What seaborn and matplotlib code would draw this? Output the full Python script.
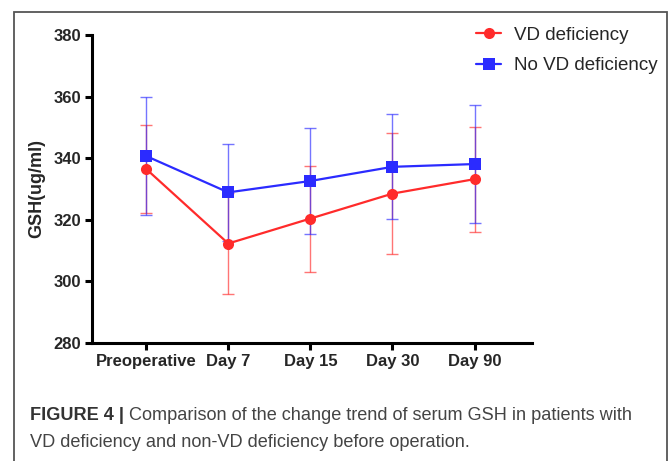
import numpy as np
import pandas as pd
import matplotlib
matplotlib.use("Agg")
import matplotlib.pyplot as plt
from matplotlib.patches import Rectangle
import seaborn as sns

# data (mean +/- SD)
timepoints = ["Preoperative", "Day 7", "Day 15", "Day 30", "Day 90"]
vd_mean = [336.5, 312.3, 320.4, 328.5, 333.2]
vd_sd = [14.2, 16.5, 17.2, 19.6, 17.0]
novd_mean = [340.7, 328.9, 332.6, 337.2, 338.1]
novd_sd = [19.3, 15.8, 17.2, 17.0, 19.1]
groups = ["VD deficiency", "No VD deficiency"]

sns.set_theme(style="ticks")
plt.rcParams['font.family'] = ['Liberation Sans', 'DejaVu Sans']

red = "#ff2b2b"
blue = "#2b2bff"
palette = {groups[0]: red, groups[1]: blue}

df = pd.DataFrame({
    "pos": list(range(len(timepoints))) * 2,
    "GSH": vd_mean + novd_mean,
    "sd": vd_sd + novd_sd,
    "group": [groups[0]] * len(timepoints) + [groups[1]] * len(timepoints),
})

fig = plt.figure(figsize=(6.72, 4.61), dpi=100)
ax = fig.add_axes([92 / 672, 1 - 343 / 461, 440 / 672, 308 / 461])

# error bars first, lines and markers on top
for g in groups:
    sub = df[df["group"] == g]
    ax.errorbar(sub["pos"], sub["GSH"], yerr=sub["sd"], fmt="none",
                ecolor=palette[g], alpha=0.65, elinewidth=1.0,
                capsize=4, capthick=1.0, zorder=2)

sns.lineplot(data=df, x="pos", y="GSH", hue="group", style="group",
             palette=palette, markers={groups[0]: "o", groups[1]: "s"},
             dashes=False, markersize=8, markeredgewidth=0, linewidth=1.6,
             ax=ax, zorder=3)

ax.set_xlim(-0.66, 4.7)
ax.set_ylim(280, 380)
ax.set_yticks(np.arange(280, 381, 20))
ax.set_xticks(range(len(timepoints)))
ax.set_xticklabels(timepoints)
ax.set_xlabel("")
ax.set_ylabel("GSH(ug/ml)", fontsize=13, fontweight="bold", labelpad=6)

for s in ["top", "right"]:
    ax.spines[s].set_visible(False)
for s in ["left", "bottom"]:
    ax.spines[s].set_linewidth(2.2)
    ax.spines[s].set_color("black")
ax.tick_params(axis="both", length=5, width=2.2, color="black",
               labelsize=12, pad=3)
for lab in ax.get_xticklabels() + ax.get_yticklabels():
    lab.set_fontweight("bold")

handles, labels = ax.get_legend_handles_labels()
ax.legend(handles, labels, loc="upper left", bbox_to_anchor=(467 / 672, 1 - 17 / 461),
          bbox_transform=fig.transFigure, frameon=False, fontsize=13.5,
          handlelength=1.3, handletextpad=0.7, labelspacing=0.72, borderpad=0)

# outer frame of the figure panel
fig.patches.append(Rectangle((14 / 672, -0.05), 653 / 672, 1.05 - 12 / 461,
                             transform=fig.transFigure, fill=False,
                             edgecolor="#555555", linewidth=1.3))

# caption: bold label, then normal text right after it
cap_size = 13.1
t1 = fig.text(30 / 672, 1 - 415 / 461, "FIGURE 4 |", fontsize=cap_size,
              fontweight="bold", color="#333333", va="center")
fig.canvas.draw()
bb = t1.get_window_extent(renderer=fig.canvas.get_renderer())
x_next = (bb.x1 + 5) / fig.bbox.width
fig.text(x_next, 1 - 415 / 461,
         "Comparison of the change trend of serum GSH in patients with",
         fontsize=cap_size, color="#444444", va="center")
fig.text(30 / 672, 1 - 442 / 461,
         "VD deficiency and non-VD deficiency before operation.",
         fontsize=cap_size, color="#444444", va="center")

fig.savefig("out.png", dpi=100)
